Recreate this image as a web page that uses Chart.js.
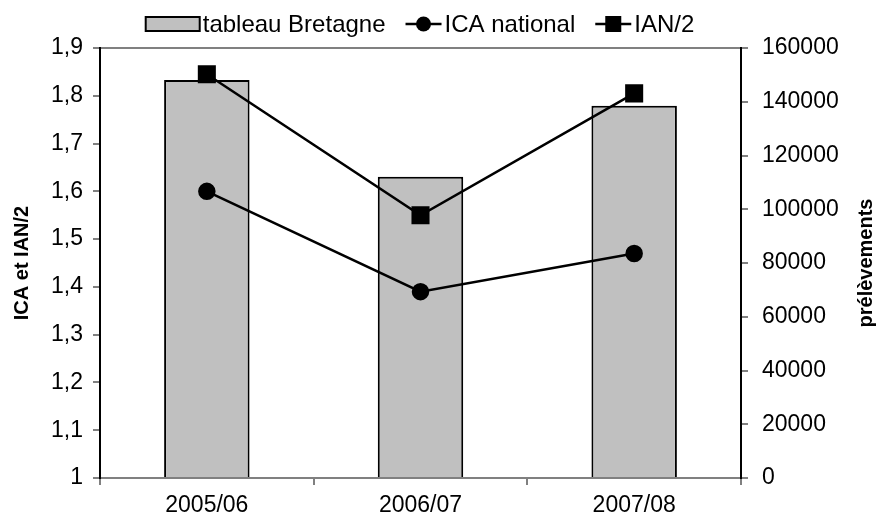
<!DOCTYPE html>
<html>
<head>
<meta charset="utf-8">
<script src="https://cdn.jsdelivr.net/npm/chart.js@4.4.1/dist/chart.umd.min.js"></script>
<style>
  html, body { margin: 0; padding: 0; background: #fff; }
  #wrap { width: 877px; height: 526px; }
</style>
</head>
<body>
<div id="wrap"><canvas id="chart"></canvas></div>
<script>
// data
const categories = ['2005/06', '2006/07', '2007/08'];
const tableauBretagne = [148100, 112100, 138500];
const icaNational = [1.60, 1.39, 1.47];
const ian2 = [1.845, 1.55, 1.805];

const leftMin = 1, leftMax = 1.9, leftStep = 0.1;
const rightMin = 0, rightMax = 160000, rightStep = 20000;

const FONT = '"Liberation Sans", Arial, sans-serif';

// legend drawn by hand so the symbols sit right against the text, like Excel
const excelLegend = {
    id: 'excelLegend',
    afterDraw(chart) {
        const ctx = chart.ctx;
        const ds = chart.data.datasets;
        const items = [
            { kind: 'bar', text: ds[2].label, w: 54 },
            { kind: 'circle', text: ds[0].label, w: 36 },
            { kind: 'rect', text: ds[1].label, w: 36 }
        ];
        ctx.save();
        ctx.font = '24px ' + FONT;
        const gap = 3, itemGap = 20;
        let total = 0;
        items.forEach((it, i) => {
            it.tw = ctx.measureText(it.text).width;
            total += it.w + gap + it.tw + (i ? itemGap : 0);
        });
        let x = 420 - total / 2;
        const y = 24;
        items.forEach(it => {
            ctx.strokeStyle = '#000';
            ctx.fillStyle = '#000';
            if (it.kind === 'bar') {
                ctx.fillStyle = '#c0c0c0';
                ctx.fillRect(x, y - 7, it.w, 14);
                ctx.lineWidth = 2;
                ctx.strokeRect(x, y - 7, it.w, 14);
            } else {
                ctx.lineWidth = 2.5;
                ctx.beginPath(); ctx.moveTo(x, y); ctx.lineTo(x + it.w, y); ctx.stroke();
                if (it.kind === 'circle') {
                    ctx.beginPath(); ctx.arc(x + it.w / 2, y, 7.5, 0, Math.PI * 2); ctx.fill();
                } else {
                    ctx.fillRect(x + it.w / 2 - 8, y - 8, 16, 16);
                }
            }
            ctx.fillStyle = '#000';
            ctx.textAlign = 'left';
            ctx.textBaseline = 'middle';
            ctx.fillText(it.text, x + it.w + gap, y + 1);
            x += it.w + gap + it.tw + itemGap;
        });
        ctx.restore();
    }
};

const rightTitle = {
    id: 'rightTitle',
    afterDraw(chart) {
        const area = chart.chartArea;
        const ctx = chart.ctx;
        ctx.save();
        ctx.translate(866, (area.top + area.bottom) / 2);
        ctx.rotate(-Math.PI / 2);
        ctx.font = 'bold 20px ' + FONT;
        ctx.fillStyle = '#000';
        ctx.textAlign = 'center';
        ctx.textBaseline = 'middle';
        ctx.fillText('prélèvements', 0, 0);
        ctx.restore();
    }
};

const fmtComma = v => String(Math.round(v * 10) / 10).replace('.', ',');

new Chart(document.getElementById('chart'), {
    data: {
        labels: categories,
        datasets: [
            {
                type: 'line',
                label: 'ICA national',
                data: icaNational,
                yAxisID: 'y',
                borderColor: '#000',
                backgroundColor: '#000',
                borderWidth: 2.5,
                pointStyle: 'circle',
                pointRadius: 7.5,
                pointHoverRadius: 7.5,
                order: 0
            },
            {
                type: 'line',
                label: 'IAN/2',
                data: ian2,
                yAxisID: 'y',
                borderColor: '#000',
                backgroundColor: '#000',
                borderWidth: 2.5,
                pointStyle: 'rect',
                pointRadius: 11,
                pointHoverRadius: 11,
                order: 0
            },
            {
                type: 'bar',
                label: 'tableau Bretagne',
                data: tableauBretagne,
                yAxisID: 'y1',
                backgroundColor: '#c0c0c0',
                borderColor: '#000',
                borderWidth: 2,
                barPercentage: 0.4,
                categoryPercentage: 1,
                order: 1
            }
        ]
    },
    options: {
        responsive: true,
        maintainAspectRatio: false,
        animation: false,
        layout: { padding: { top: 48, left: 0, right: 0, bottom: 0 } },
        plugins: {
            tooltip: { enabled: false },
            legend: { display: false }
        },
        scales: {
            x: {
                type: 'category',
                offset: true,
                afterFit(s) { s.height = 48; },
                grid: {
                    offset: true,
                    drawOnChartArea: false,
                    drawTicks: true,
                    tickLength: 7,
                    tickColor: '#808080',
                    lineWidth: 2
                },
                border: { display: true, color: '#808080', width: 2 },
                ticks: { color: '#000', padding: 7, font: { family: FONT, size: 23 } }
            },
            y: {
                position: 'left',
                min: leftMin,
                max: leftMax,
                afterFit(s) { s.width = 100; },
                ticks: {
                    stepSize: leftStep,
                    color: '#000',
                    padding: 10,
                    font: { family: FONT, size: 23 },
                    callback: v => fmtComma(v)
                },
                grid: {
                    color: ctx => Math.abs(ctx.tick.value - leftMax) < 1e-6 ? '#808080' : 'transparent',
                    tickColor: '#808080',
                    tickLength: 7,
                    lineWidth: 2
                },
                border: { display: true, color: '#000', width: 2 },
                title: {
                    display: true,
                    text: 'ICA et IAN/2',
                    color: '#000',
                    padding: { top: 10, bottom: 0 },
                    font: { family: FONT, size: 20, weight: 'bold' }
                }
            },
            y1: {
                position: 'right',
                min: rightMin,
                max: rightMax,
                afterFit(s) { s.width = 136; },
                ticks: {
                    stepSize: rightStep,
                    color: '#000',
                    padding: 14,
                    font: { family: FONT, size: 23 },
                    callback: v => String(v)
                },
                grid: {
                    drawOnChartArea: false,
                    tickColor: '#808080',
                    tickLength: 7,
                    lineWidth: 2
                },
                border: { display: true, color: '#000', width: 2 }
            }
        }
    },
    plugins: [excelLegend, rightTitle]
});
</script>
</body>
</html>
